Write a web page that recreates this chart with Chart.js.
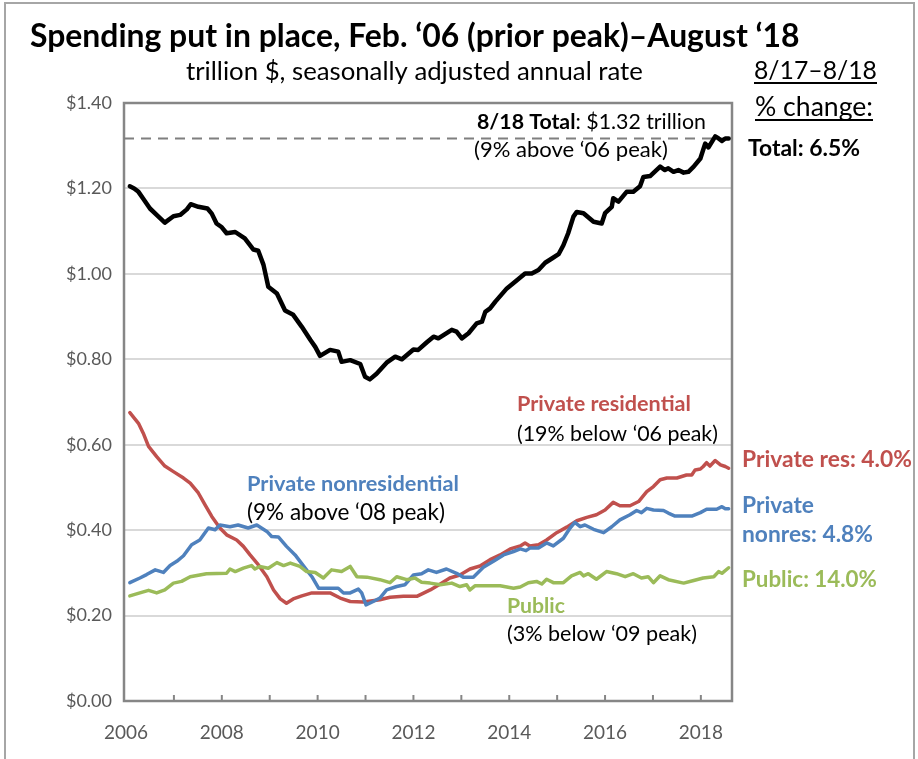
<!DOCTYPE html>
<html>
<head>
<meta charset="utf-8">
<script src="https://cdn.jsdelivr.net/npm/chart.js@4.4.1/dist/chart.umd.min.js"></script>
<style>
html,body{margin:0;padding:0;background:#fff;}
#wrap{width:918px;height:759px;position:relative;}
canvas{display:block;}
</style>
</head>
<body>
<div id="wrap"><canvas id="c" width="918" height="759"></canvas></div>
<script>
// ---- data ----
const xTickLabels = [2006, 2008, 2010, 2012, 2014, 2016, 2018];
const yTickValues = [0, 0.2, 0.4, 0.6, 0.8, 1.0, 1.2, 1.4];
const peakLevel = 1.317; // 8/18 total, dashed reference line

const totalSeries = [[2006.08,1.205],[2006.17,1.200],[2006.26,1.192],[2006.36,1.176],[2006.50,1.153],[2006.65,1.137],[2006.81,1.120],[2006.99,1.135],[2007.13,1.138],[2007.27,1.151],[2007.35,1.163],[2007.51,1.157],[2007.70,1.153],[2007.79,1.141],[2007.89,1.118],[2008.00,1.109],[2008.10,1.095],[2008.28,1.098],[2008.48,1.083],[2008.66,1.057],[2008.76,1.054],[2008.87,1.021],[2008.97,0.970],[2009.15,0.954],[2009.32,0.914],[2009.49,0.904],[2009.67,0.876],[2009.85,0.845],[2009.95,0.829],[2010.05,0.808],[2010.26,0.822],[2010.43,0.818],[2010.50,0.794],[2010.68,0.798],[2010.89,0.789],[2010.99,0.759],[2011.09,0.753],[2011.23,0.766],[2011.44,0.792],[2011.62,0.806],[2011.76,0.800],[2012.00,0.823],[2012.10,0.822],[2012.28,0.840],[2012.42,0.853],[2012.52,0.849],[2012.80,0.869],[2012.90,0.865],[2013.01,0.849],[2013.15,0.861],[2013.32,0.884],[2013.43,0.888],[2013.50,0.911],[2013.60,0.919],[2013.71,0.935],[2013.95,0.966],[2014.16,0.985],[2014.33,1.001],[2014.47,1.001],[2014.61,1.009],[2014.75,1.026],[2014.89,1.036],[2015.03,1.046],[2015.13,1.067],[2015.23,1.095],[2015.34,1.134],[2015.41,1.145],[2015.55,1.142],[2015.76,1.122],[2015.93,1.118],[2016.00,1.142],[2016.14,1.157],[2016.17,1.177],[2016.28,1.169],[2016.45,1.192],[2016.59,1.192],[2016.73,1.205],[2016.80,1.227],[2016.94,1.229],[2017.15,1.251],[2017.25,1.243],[2017.32,1.247],[2017.43,1.239],[2017.53,1.243],[2017.64,1.237],[2017.74,1.239],[2017.85,1.251],[2017.99,1.270],[2018.09,1.305],[2018.16,1.296],[2018.30,1.322],[2018.37,1.317],[2018.44,1.311],[2018.51,1.317],[2018.58,1.317]];

const residentialSeries = [[2006.08,0.675],[2006.26,0.650],[2006.36,0.627],[2006.47,0.596],[2006.64,0.572],[2006.81,0.550],[2006.99,0.537],[2007.20,0.522],[2007.34,0.510],[2007.51,0.487],[2007.65,0.459],[2007.79,0.432],[2007.96,0.405],[2008.10,0.389],[2008.31,0.377],[2008.45,0.362],[2008.59,0.342],[2008.76,0.319],[2008.94,0.291],[2009.08,0.260],[2009.22,0.239],[2009.35,0.229],[2009.49,0.239],[2009.67,0.246],[2009.88,0.253],[2010.26,0.253],[2010.47,0.241],[2010.68,0.233],[2010.95,0.232],[2011.30,0.237],[2011.51,0.243],[2011.79,0.245],[2012.07,0.245],[2012.20,0.252],[2012.35,0.260],[2012.56,0.274],[2012.76,0.288],[2012.97,0.295],[2013.18,0.309],[2013.39,0.316],[2013.60,0.331],[2013.81,0.342],[2014.02,0.356],[2014.23,0.363],[2014.33,0.370],[2014.43,0.363],[2014.61,0.366],[2014.78,0.377],[2014.99,0.394],[2015.20,0.407],[2015.41,0.422],[2015.62,0.430],[2015.82,0.436],[2016.00,0.447],[2016.17,0.465],[2016.31,0.457],[2016.52,0.457],[2016.70,0.467],[2016.87,0.490],[2017.01,0.502],[2017.15,0.518],[2017.29,0.522],[2017.50,0.522],[2017.70,0.529],[2017.81,0.529],[2017.88,0.541],[2017.99,0.543],[2018.05,0.549],[2018.12,0.558],[2018.19,0.550],[2018.30,0.563],[2018.41,0.553],[2018.51,0.549],[2018.58,0.545]];

const nonresidentialSeries = [[2006.08,0.277],[2006.29,0.288],[2006.43,0.296],[2006.61,0.307],[2006.78,0.301],[2006.92,0.317],[2007.06,0.327],[2007.20,0.340],[2007.37,0.366],[2007.54,0.377],[2007.72,0.405],[2007.86,0.401],[2007.96,0.412],[2008.17,0.408],[2008.34,0.412],[2008.55,0.405],[2008.73,0.412],[2008.94,0.397],[2009.04,0.385],[2009.18,0.384],[2009.35,0.362],[2009.53,0.342],[2009.70,0.317],[2009.88,0.291],[2010.02,0.264],[2010.43,0.264],[2010.54,0.253],[2010.68,0.253],[2010.85,0.262],[2010.92,0.253],[2011.01,0.225],[2011.16,0.233],[2011.30,0.241],[2011.44,0.260],[2011.65,0.268],[2011.82,0.272],[2012.00,0.295],[2012.17,0.298],[2012.31,0.307],[2012.48,0.301],[2012.69,0.309],[2012.90,0.299],[2013.04,0.290],[2013.25,0.290],[2013.46,0.313],[2013.67,0.327],[2013.88,0.342],[2014.09,0.350],[2014.23,0.356],[2014.35,0.352],[2014.43,0.358],[2014.61,0.358],[2014.78,0.370],[2014.92,0.363],[2015.13,0.381],[2015.27,0.405],[2015.37,0.418],[2015.48,0.408],[2015.58,0.412],[2015.76,0.402],[2015.97,0.394],[2016.14,0.408],[2016.31,0.424],[2016.52,0.436],[2016.66,0.446],[2016.76,0.441],[2016.87,0.451],[2017.01,0.447],[2017.22,0.446],[2017.32,0.440],[2017.46,0.433],[2017.81,0.433],[2017.99,0.441],[2018.12,0.449],[2018.33,0.449],[2018.44,0.455],[2018.51,0.450],[2018.58,0.450]];

const publicSeries = [[2006.08,0.246],[2006.29,0.253],[2006.47,0.259],[2006.64,0.253],[2006.81,0.260],[2006.99,0.276],[2007.16,0.280],[2007.34,0.291],[2007.68,0.298],[2008.10,0.299],[2008.17,0.309],[2008.28,0.303],[2008.45,0.311],[2008.62,0.317],[2008.69,0.309],[2008.79,0.315],[2008.97,0.311],[2009.15,0.324],[2009.29,0.317],[2009.43,0.323],[2009.63,0.315],[2009.77,0.303],[2009.95,0.301],[2010.12,0.288],[2010.29,0.307],[2010.50,0.303],[2010.68,0.315],[2010.82,0.291],[2011.03,0.290],[2011.30,0.284],[2011.51,0.277],[2011.65,0.291],[2011.86,0.284],[2012.03,0.288],[2012.17,0.278],[2012.35,0.276],[2012.56,0.272],[2012.80,0.276],[2012.97,0.268],[2013.11,0.272],[2013.18,0.260],[2013.29,0.270],[2013.81,0.270],[2014.09,0.264],[2014.23,0.267],[2014.40,0.277],[2014.57,0.280],[2014.68,0.274],[2014.78,0.285],[2014.92,0.277],[2015.13,0.277],[2015.30,0.293],[2015.48,0.301],[2015.55,0.293],[2015.65,0.298],[2015.82,0.285],[2016.03,0.303],[2016.24,0.298],[2016.42,0.291],[2016.59,0.298],[2016.76,0.288],[2016.90,0.291],[2017.01,0.277],[2017.15,0.293],[2017.32,0.284],[2017.64,0.276],[2017.85,0.282],[2018.05,0.288],[2018.27,0.291],[2018.37,0.303],[2018.44,0.299],[2018.58,0.312]];

// ---- layout / style ----
const X_MIN = 2005.958, X_MAX = 2018.65;
const FONT = 'Lato, "Open Sans", sans-serif';
const C_RED = '#C0504D', C_BLUE = '#4F81BD', C_GREEN = '#9BBB59', C_AXIS = '#868686';

const toXY = arr => arr.map(p => ({x: p[0], y: p[1]}));

function drawFit(ctx, parts, x, y, w, opt) {
  opt = opt || {};
  let total = 0;
  parts.forEach(p => { ctx.font = (p.bold ? 'bold ' : '') + '100px ' + FONT; total += ctx.measureText(p.t).width; });
  const size = 100 * w / total;
  ctx.textBaseline = 'middle';
  ctx.textAlign = 'left';
  let cx = x;
  parts.forEach(p => {
    ctx.font = (p.bold ? 'bold ' : '') + size + 'px ' + FONT;
    ctx.fillStyle = p.color || '#000';
    ctx.fillText(p.t, cx, y);
    cx += ctx.measureText(p.t).width;
  });
  if (opt.underline) {
    ctx.strokeStyle = '#000';
    ctx.lineWidth = 2;
    ctx.beginPath();
    ctx.moveTo(x, y + opt.underline);
    ctx.lineTo(x + w, y + opt.underline);
    ctx.stroke();
  }
}

const decorPlugin = {
  id: 'decor',
  beforeDatasetsDraw(chart) {
    const ctx = chart.ctx, a = chart.chartArea, xs = chart.scales.x;
    ctx.save();
    // year tick marks (inside, upward)
    ctx.strokeStyle = C_AXIS; ctx.lineWidth = 2;
    for (let yr = 2007; yr <= 2018; yr++) {
      const px = xs.getPixelForValue(yr);
      ctx.beginPath(); ctx.moveTo(px, a.bottom); ctx.lineTo(px, a.bottom - 6); ctx.stroke();
    }
    // plot border
    ctx.lineWidth = 2.5;
    ctx.strokeRect(a.left, a.top, a.right - a.left, a.bottom - a.top);
    ctx.restore();
  },
  afterDraw(chart) {
    const ctx = chart.ctx;
    ctx.save();
    // outer frame
    ctx.strokeStyle = '#A6A6A6'; ctx.lineWidth = 2;
    ctx.beginPath(); ctx.moveTo(5, 759); ctx.lineTo(5, 3); ctx.lineTo(914, 3); ctx.lineTo(914, 759); ctx.stroke();

    drawFit(ctx, [{t: 'Spending put in place, Feb. \u201806 (prior peak)\u2013August \u201818', bold: true}], 30, 37, 770);
    drawFit(ctx, [{t: 'trillion $, seasonally adjusted annual rate'}], 186, 72, 457);
    drawFit(ctx, [{t: '8/17\u20138/18'}], 754, 71, 123, {underline: 12});
    drawFit(ctx, [{t: '% change:'}], 755, 107, 118, {underline: 13});
    drawFit(ctx, [{t: 'Total: 6.5%', bold: true}], 748, 149, 112);

    drawFit(ctx, [{t: '8/18 Total', bold: true}, {t: ': $1.32 trillion'}], 477, 122, 229);
    drawFit(ctx, [{t: '(9% above \u201806 peak)'}], 474, 150, 194);

    drawFit(ctx, [{t: 'Private residential', bold: true, color: C_RED}], 517, 404, 174);
    drawFit(ctx, [{t: '(19% below \u201806 peak)'}], 517, 434, 201);
    drawFit(ctx, [{t: 'Private nonresidential', bold: true, color: C_BLUE}], 247, 484, 212);
    drawFit(ctx, [{t: '(9% above \u201808 peak)'}], 247, 513, 198);
    drawFit(ctx, [{t: 'Public', bold: true, color: C_GREEN}], 507, 606, 58);
    drawFit(ctx, [{t: '(3% below \u201809 peak)'}], 507, 634, 190);

    drawFit(ctx, [{t: 'Private res: 4.0%', bold: true, color: C_RED}], 742, 460, 170);
    drawFit(ctx, [{t: 'Private', bold: true, color: C_BLUE}], 742, 506, 72);
    drawFit(ctx, [{t: 'nonres: 4.8%', bold: true, color: C_BLUE}], 742, 535, 131);
    drawFit(ctx, [{t: 'Public: 14.0%', bold: true, color: C_GREEN}], 742, 580, 135);
    ctx.restore();
  }
};

const lineDs = (label, arr, color, width, order) => ({
  label, data: toXY(arr), borderColor: color, borderWidth: width,
  pointRadius: 0, tension: 0, fill: false, order,
  borderJoinStyle: 'round', borderCapStyle: 'round'
});

new Chart(document.getElementById('c'), {
  type: 'line',
  data: {
    datasets: [
      lineDs('Total', totalSeries, '#000000', 4.5, 0),
      lineDs('Public', publicSeries, C_GREEN, 3.5, 1),
      lineDs('Private nonresidential', nonresidentialSeries, C_BLUE, 3.5, 2),
      lineDs('Private residential', residentialSeries, C_RED, 3.5, 3),
      {label: 'Peak', data: [{x: X_MIN, y: peakLevel}, {x: X_MAX, y: peakLevel}],
       borderColor: '#7F7F7F', borderWidth: 2, borderDash: [10, 7], pointRadius: 0, order: 4}
    ]
  },
  options: {
    responsive: false, animation: false, devicePixelRatio: 1,
    layout: {padding: {top: 103, right: 186, left: 0, bottom: 0}},
    plugins: {legend: {display: false}, tooltip: {enabled: false}},
    scales: {
      x: {
        type: 'linear', min: X_MIN, max: X_MAX,
        afterBuildTicks: s => { s.ticks = xTickLabels.map(v => ({value: v})); },
        afterFit: s => { s.height = 58; },
        grid: {display: false, drawTicks: false},
        border: {display: false},
        ticks: {font: {family: FONT, size: 19}, color: '#595959', padding: 20, maxRotation: 0,
                callback: v => String(v)}
      },
      y: {
        min: 0, max: 1.4,
        afterBuildTicks: s => { s.ticks = yTickValues.map(v => ({value: v})); },
        afterFit: s => { s.width = 124; },
        grid: {color: ctx => (ctx.tick && (ctx.tick.value === 0 || ctx.tick.value === 1.4)) ? 'rgba(0,0,0,0)' : '#D9D9D9',
               lineWidth: 2, drawTicks: false},
        border: {display: false},
        ticks: {font: {family: FONT, size: 18}, color: '#595959', padding: 12,
                callback: v => '$' + Number(v).toFixed(2)}
      }
    }
  },
  plugins: [decorPlugin]
});
</script>
</body>
</html>
